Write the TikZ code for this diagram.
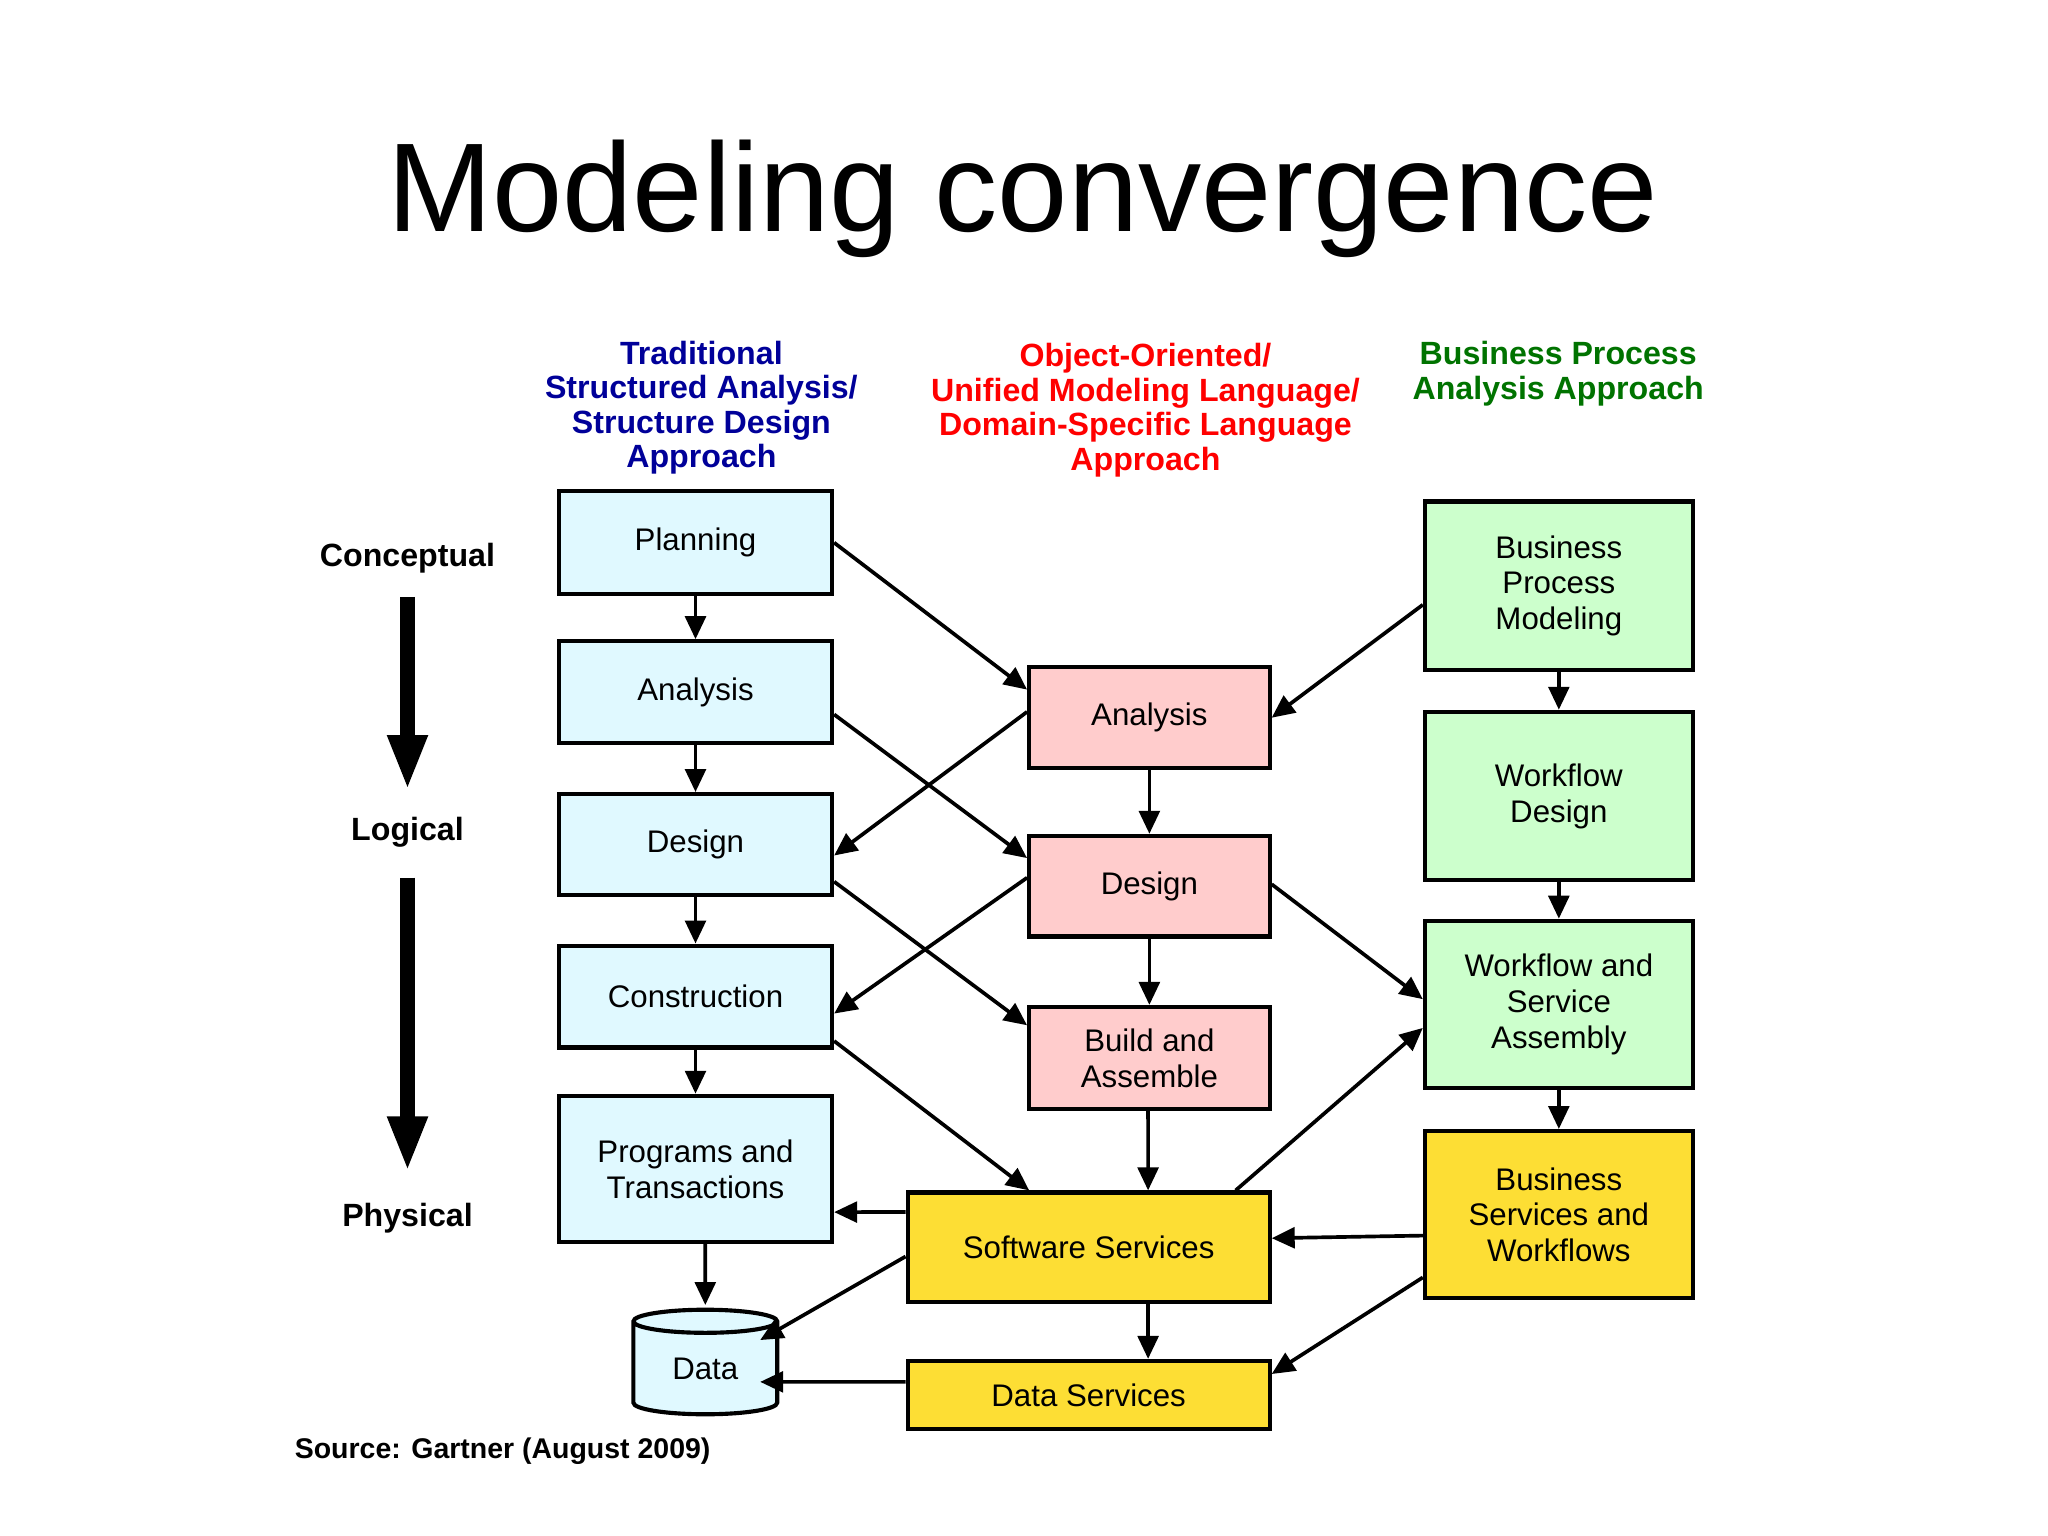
\documentclass[tikz,border=0pt]{standalone}
\usepackage{fontspec}
\setmainfont{Liberation Sans}
\usetikzlibrary{shapes.geometric,arrows.meta}
\begin{document}
\begin{tikzpicture}[x=0.01cm,y=-0.01cm,
  box/.style={draw=black,line width=0.9pt,align=center,inner sep=0pt,font=\fontsize{6.8}{7.8}\selectfont},
  bl/.style={box,fill=blue!18!cyan!12,minimum width=2.09cm},
  pk/.style={box,fill=red!20,minimum width=1.84cm},
  gr/.style={box,fill=green!20,minimum width=2.05cm},
  ye/.style={box,fill=yellow!75!orange!80,minimum width=2.77cm},
  ar/.style={line width=0.8pt,-{Triangle[length=5pt,width=4.5pt]}},
  big/.style={line width=3.4pt,-{Triangle[length=12pt,width=8pt]}},
  hd/.style={align=center,font=\fontsize{7}{7.5}\selectfont\bfseries},
  lab/.style={font=\fontsize{7}{8}\selectfont\bfseries}]
\useasboundingbox (0,0) rectangle (1568,1176);
\node[font=\fontsize{27.5}{32}\selectfont] (title) at (783,152) {Modeling convergence};
\node[hd,text=blue!60!black] (h1) at (537,312) {Traditional\\Structured Analysis/\\Structure Design\\Approach};
\node[hd,text=red] (h2) at (877,314) {Object-Oriented/\\Unified Modeling Language/\\Domain-Specific Language\\Approach};
\node[hd,text=green!45!black] (h3) at (1193,286) {Business Process\\Analysis Approach};
\node[lab] (lc1) at (312,427) {Conceptual};
\node[lab] (lc2) at (312,637) {Logical};
\node[lab] (lc3) at (312,933) {Physical};
\coordinate (a1) at (312,457); \coordinate (a2) at (312,605);
\coordinate (a3) at (312,672); \coordinate (a4) at (312,897);
\draw[big] (a1) -- (a2);
\draw[big] (a3) -- (a4);
\node[anchor=west,inner sep=0pt,font=\fontsize{6.2}{8}\selectfont\bfseries] (src) at (225,1111) {Source: Gartner (August 2009)};
% left column
\node[bl,minimum height=0.79cm] (pl) at (532.5,415.5) {Planning};
\node[bl,minimum height=0.78cm] (la) at (532.5,530) {Analysis};
\node[bl,minimum height=0.77cm] (ld) at (532.5,646.5) {Design};
\node[bl,minimum height=0.78cm] (lc) at (532.5,763) {Construction};
\node[bl,minimum height=1.12cm] (lp) at (532.5,895) {Programs and\\Transactions};
\node[box,cylinder,shape border rotate=90,aspect=0.35,fill=blue!18!cyan!12,minimum width=1.1cm,minimum height=0.8cm] (data) at (540,1048) {Data};
% middle
\node[pk,minimum height=0.77cm] (pa) at (880,549.5) {Analysis};
\node[pk,minimum height=0.77cm] (pd) at (880,678.5) {Design};
\node[pk,minimum height=0.78cm] (pb) at (880,810) {Build and\\Assemble};
\node[ye,minimum height=0.84cm] (sw) at (833.5,955) {Software Services};
\node[ye,minimum height=0.52cm] (ds) at (833.5,1068) {Data Services};
% right
\node[gr,minimum height=1.29cm] (bpm) at (1193.5,448.5) {Business\\Process\\Modeling};
\node[gr,minimum height=1.29cm] (wd) at (1193.5,609.5) {Workflow\\Design};
\node[gr,minimum height=1.28cm] (wsa) at (1193.5,769) {Workflow and\\Service\\Assembly};
\node[box,fill=yellow!75!orange!80,minimum width=2.05cm,minimum height=1.28cm] (bs) at (1193.5,930) {Business\\Services and\\Workflows};
% vertical chains
\draw[ar] (pl) -- (la);
\draw[ar] (la) -- (ld);
\draw[ar] (ld) -- (lc);
\draw[ar] (lc) -- (lp);
\draw[ar] ([xshift=.075cm]lp.south) -- ([yshift=.02cm]data.north);
\draw[ar] (pa) -- (pd);
\draw[ar] (pd) -- (pb);
\draw[ar] ([xshift=-.01cm]pb.south) -- ([xshift=.455cm]sw.north);
\draw[ar] ([xshift=.455cm]sw.south) -- ([xshift=.455cm]ds.north);
\draw[ar] (bpm) -- (wd);
\draw[ar] (wd) -- (wsa);
\draw[ar] (wsa) -- (bs);
% crossing arrows
\draw[ar] (pl.east) -- ([yshift=.215cm]pa.west);
\draw[ar] ([yshift=-.17cm]la.east) -- ([yshift=.215cm]pd.west);
\draw[ar] ([yshift=.045cm]pa.west) -- ([yshift=-.085cm]ld.east);
\draw[ar] ([yshift=-.285cm]ld.east) -- ([yshift=.25cm]pb.west);
\draw[ar] ([yshift=.065cm]pd.west) -- ([yshift=-.13cm]lc.east);
\draw[ar] ([yshift=-.34cm]lc.east) -- ([xshift=-.455cm]sw.north);
\draw[ar] ([yshift=.27cm]sw.west) -- ([yshift=-.33cm]lp.east);
\draw[ar] ([yshift=-.07cm]sw.west) -- ([xshift=.42cm,yshift=.22cm]data.center);
\draw[ar] ([yshift=.1cm]ds.west) -- ([xshift=.42cm,yshift=-.1cm]data.center);
\draw[ar] ([yshift=-.145cm]bpm.west) -- (pa.east);
\draw[ar] ([yshift=.015cm]pd.east) -- ([yshift=.04cm]wsa.west);
\draw[ar] ([xshift=1.125cm]sw.north) -- ([yshift=-.18cm]wsa.west);
\draw[ar] ([yshift=-.16cm]bs.west) -- ([yshift=.07cm]sw.east);
\draw[ar] ([yshift=-.48cm]bs.west) -- ([yshift=.16cm]ds.east);
\end{tikzpicture}
\end{document}
